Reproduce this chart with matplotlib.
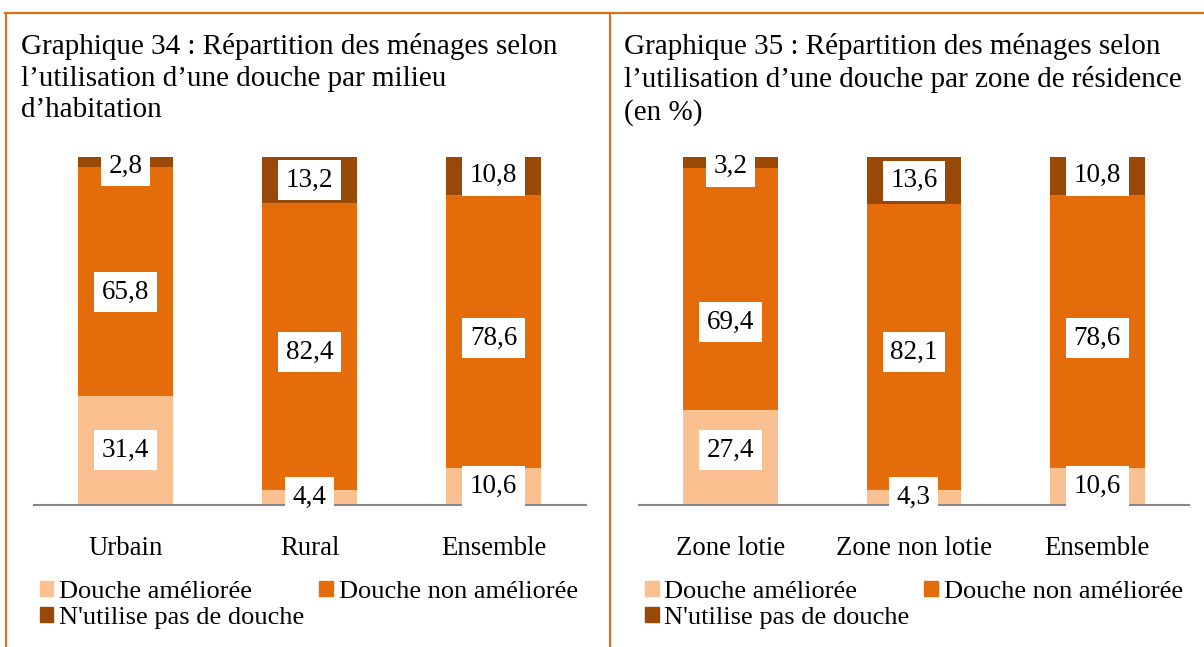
import matplotlib
matplotlib.use("Agg")
import matplotlib.pyplot as plt
from matplotlib.patches import Patch
from matplotlib.lines import Line2D

plt.rcParams['font.family'] = ['Liberation Serif', 'DejaVu Serif']

# Graphique 34 : par milieu d'habitation
milieux = ["Urbain", "Rural", "Ensemble"]
ameliore_milieu = [31.4, 4.4, 10.6]
non_ameliore_milieu = [65.8, 82.4, 78.6]
sans_douche_milieu = [2.8, 13.2, 10.8]

# Graphique 35 : par zone de résidence
zones = ["Zone lotie", "Zone non lotie", "Ensemble"]
ameliore_zone = [27.4, 4.3, 10.6]
non_ameliore_zone = [69.4, 82.1, 78.6]
sans_douche_zone = [3.2, 13.6, 10.8]

# étiquettes déplacées à la main (en points de %, par série puis catégorie)
decalage_milieu = [[0, 0, 0], [-3.2, -1.7, -2.0], [-1.2, 0, 0]]
decalage_zone = [[2.0, 0, 0], [-9.5, -1.5, -2.0], [-1.2, 0, 0]]

series_names = ["Douche améliorée", "Douche non améliorée", "N'utilise pas de douche"]
colors = ["#FAC090", "#E46C0A", "#984807"]

titles = [
    "Graphique 34 : Répartition des ménages selon\nl’utilisation d’une douche par milieu\nd’habitation",
    "Graphique 35 : Répartition des ménages selon\nl’utilisation d’une douche par zone de résidence\n(en %)",
]

W, H = 1204, 647
fig = plt.figure(figsize=(W / 100, H / 100), dpi=100)

def fmt(v):
    return f"{v:.1f}".replace(".", ",")

def draw_panel(rect, cats, series, shifts, title, title_x):
    ax = fig.add_axes(rect)
    x = range(len(cats))
    bottom = [0] * len(cats)
    for vals, col, sh in zip(series, colors, shifts):
        ax.bar(x, vals, width=0.516, bottom=bottom, color=col, zorder=2)
        for i, v in enumerate(vals):
            ax.text(i, bottom[i] + v / 2 + sh[i], fmt(v), ha='center', va='center',
                    fontsize=19.5, zorder=4,
                    bbox=dict(boxstyle='square,pad=0.28', fc='white', ec='none'))
        bottom = [b + v for b, v in zip(bottom, vals)]
    ax.set_xlim(-0.5, len(cats) - 0.5)
    ax.set_ylim(0, 100)
    for s in ['top', 'left', 'right']:
        ax.spines[s].set_visible(False)
    ax.spines['bottom'].set_color('#868686')
    ax.spines['bottom'].set_linewidth(1.5)
    ax.spines['bottom'].set_zorder(3)
    ax.set_yticks([])
    ax.set_xticks(list(x))
    ax.set_xticklabels(cats, fontsize=19.3)
    ax.tick_params(axis='x', length=0, pad=22)

    # ordre choisi pour que les deux premières entrées soient sur la même ligne
    handles = [Patch(color=colors[0]), Patch(color=colors[2]), Patch(color=colors[1])]
    labels = [series_names[0], series_names[2], series_names[1]]
    ax.legend(handles, labels, ncol=2, loc='upper left',
              bbox_to_anchor=(0.011, -0.218), frameon=False, fontsize=19,
              handlelength=0.52, handleheight=0.52, handletextpad=0.22,
              labelspacing=0.15, columnspacing=0.56, borderpad=0, borderaxespad=0)

    fig.text(title_x / W, 1 - 33 / H, title, fontsize=21, ha='left', va='top',
             linespacing=1.28)
    return ax

draw_panel([33.5 / W, 1 - 505 / H, 552 / W, 348 / H], milieux,
           [ameliore_milieu, non_ameliore_milieu, sans_douche_milieu],
           decalage_milieu, titles[0], 21)
draw_panel([638.75 / W, 1 - 505 / H, 550.25 / W, 348 / H], zones,
           [ameliore_zone, non_ameliore_zone, sans_douche_zone],
           decalage_zone, titles[1], 624)

# cadre orange
frame = dict(color='#E46C0A', linewidth=1.5, transform=fig.transFigure)
fig.add_artist(Line2D([5 / W, 1], [1 - 12.5 / H] * 2, **frame))
fig.add_artist(Line2D([6 / W] * 2, [1 - 12.5 / H, 0], **frame))
fig.add_artist(Line2D([609.5 / W] * 2, [1 - 12.5 / H, 0], **frame))

fig.savefig("out.png", dpi=100)
